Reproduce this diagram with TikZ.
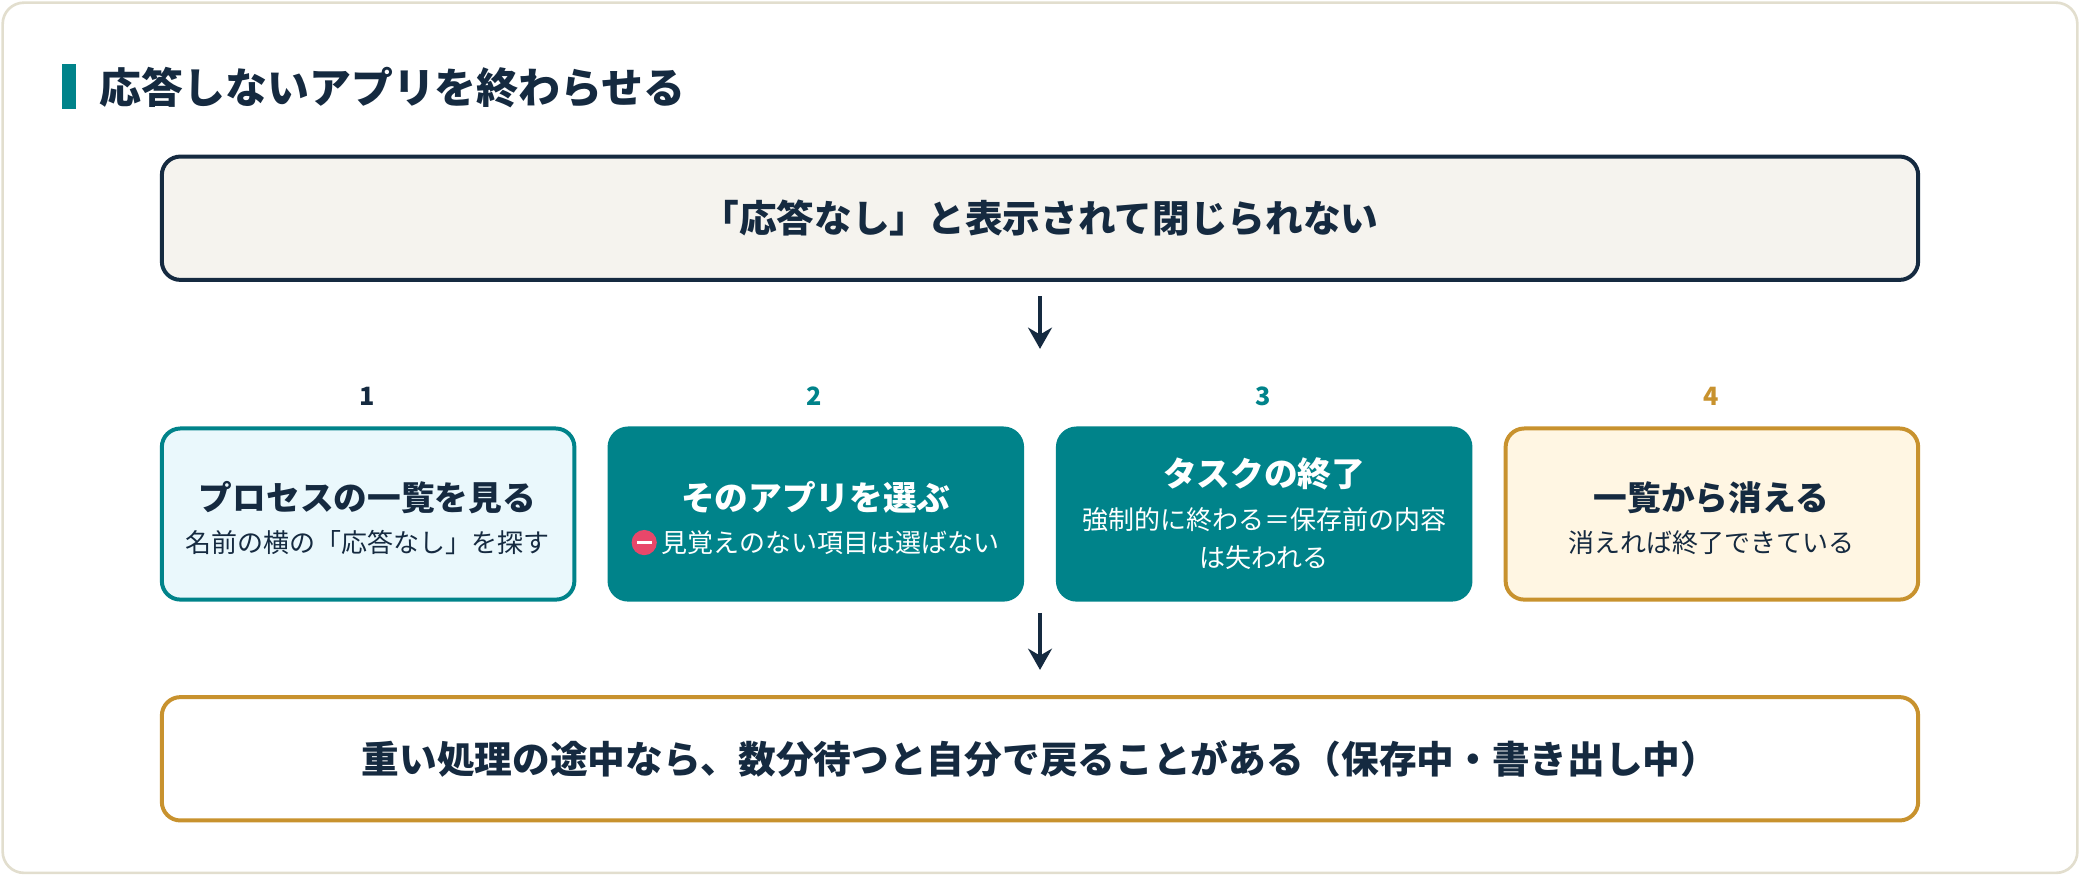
\documentclass[tikz,border=0pt]{standalone}
\usepackage{fontspec}
\setmainfont{Noto Sans CJK JP}
\usetikzlibrary{arrows.meta, positioning, calc}
\definecolor{navy}{HTML}{152A40}
\definecolor{teal}{HTML}{00838A}
\definecolor{gold}{HTML}{C8922E}
\definecolor{frame}{HTML}{E2DECE}
\definecolor{cream}{HTML}{F5F3EE}
\definecolor{ice}{HTML}{EAF8FC}
\definecolor{peach}{HTML}{FFF6E3}
\definecolor{stop}{HTML}{E8476A}
\tikzset{
	every node/.style={
		align=center,
	},
	box/.style={rounded corners=7pt, line width=1.5pt, minimum height=64.5pt, minimum width=155.5pt},
	wide/.style={rounded corners=7pt, line width=1.5pt, minimum height=46.5pt, minimum width=662pt, font=\bfseries\fontsize{14.2}{16}\selectfont},
	head/.style={font=\bfseries\fontsize{12.7}{15}\selectfont},
	sub/.style={font=\fontsize{9.8}{14.5}\selectfont},
	num/.style={font=\bfseries\fontsize{9.5}{11}\selectfont},
	flow/.style={line width=1.5pt, navy, -{Stealth[length=8pt,width=9pt]}},
}
\begin{document}
\begin{tikzpicture}[x=0.5pt, y=-0.5pt]
    \useasboundingbox (0,0) rectangle (1568,660);
    \draw[frame, fill=white, rounded corners=8pt, line width=1pt] (2,2) rectangle (1566,658);
    
    % title
    \fill[teal] (47,48) rectangle (57,82);
    \node[anchor=west, text=navy, font=\bfseries\fontsize{15.8}{18}\selectfont] (title) at (68,66) {応答しないアプリを終わらせる};
    
    % top and bottom
    \node[wide, draw=navy, fill=cream, text=navy] (top) at (784,164.5) {「応答なし」と表示されて閉じられない};
    \node[wide, draw=gold, fill=white, text=navy] (bottom) at (784,572) {重い処理の途中なら、数分待つと自分で戻ることがある（保存中・書き出し中）};
    
    % steps
    \node[box, draw=teal, fill=ice] (s1) at (277.5,387.5) {};
    \node[box, draw=teal, fill=teal] (s2) at (615,387.5) {};
    \node[box, draw=teal, fill=teal] (s3) at (953,387.5) {};
    \node[box, draw=gold, fill=peach] (s4) at (1290.5,387.5) {};
    
    \node[num, text=navy] (n1) at (277,299) {1};
    \node[num, text=teal] (n2) at (614,299) {2};
    \node[num, text=teal] (n3) at (952,299) {3};
    \node[num, text=gold] (n4) at (1290,299) {4};
    
    \node[head, text=navy] (h1) at (277,375) {プロセスの一覧を見る};
    \node[sub, text=navy] (t1) at (277,409) {名前の横の「応答なし」を探す};
    \node[head, text=white] (h2) at (615,375) {そのアプリを選ぶ};
    \node[sub, text=white] (t2) at (626,409) {見覚えのない項目は選ばない};
    \node[circle, fill=stop, inner sep=0pt, minimum size=9.5pt, left=-2pt of t2] (icon) {};
    \fill[white] ($(icon.center)+(-5.5,-1.4)$) rectangle ($(icon.center)+(5.5,1.4)$);
    \node[head, text=white] (h3) at (953,357) {タスクの終了};
    \node[sub, text=white] (t3) at (953,406) {強制的に終わる＝保存前の内容\\は失われる};
    \node[head, text=navy] (h4) at (1290,375) {一覧から消える};
    \node[sub, text=navy] (t4) at (1290,409) {消えれば終了できている};
    
    % arrows
    \coordinate (a1) at (784,263);
    \coordinate (a2) at (784,462);
    \coordinate (a3) at (784,505);
    \draw[flow] ($(top.south)+(0,11)$) -- (a1);
    \draw[flow] (a2) -- (a3);
\end{tikzpicture}
\end{document}
